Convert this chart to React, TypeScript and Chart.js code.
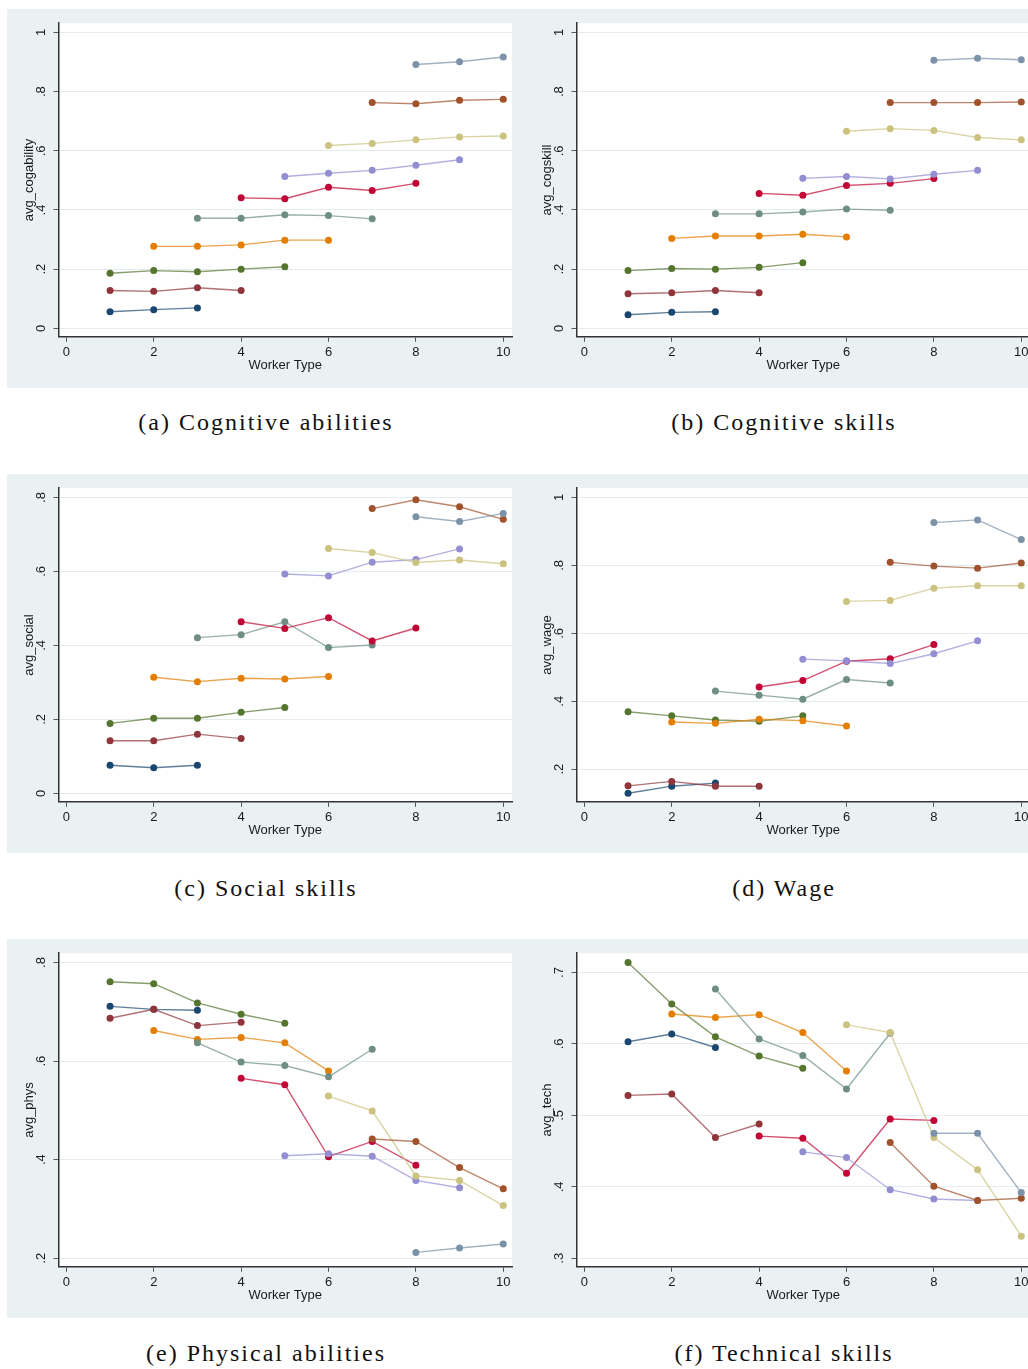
import React, { useEffect, useRef } from 'react';
import { Chart, registerables } from 'chart.js';

Chart.register(...registerables);

// ---------- data ----------
const xTicks = [0, 2, 4, 6, 8, 10];
const xTitle = 'Worker Type';

// first worker type of each of the ten series
const seriesStartX = [1, 1, 1, 2, 3, 4, 5, 6, 7, 8];
const seriesNames = ['Group 1', 'Group 2', 'Group 3', 'Group 4', 'Group 5', 'Group 6', 'Group 7', 'Group 8', 'Group 9', 'Group 10'];
const seriesColors = ['#1a476f', '#90353b', '#55752f', '#e37e00', '#6e8e84', '#c10534', '#938dd2', '#cac27e', '#a0522d', '#7b92a8'];

const cogAbility = [
  [0.056, 0.063, 0.069],
  [0.128, 0.125, 0.137, 0.128],
  [0.186, 0.195, 0.191, 0.2, 0.208],
  [0.277, 0.277, 0.282, 0.298, 0.298],
  [0.372, 0.372, 0.384, 0.381, 0.37],
  [0.441, 0.438, 0.477, 0.466, 0.49],
  [0.513, 0.524, 0.534, 0.551, 0.57],
  [0.618, 0.625, 0.637, 0.647, 0.65],
  [0.763, 0.759, 0.771, 0.774],
  [0.892, 0.901, 0.917],
];

const cogSkill = [
  [0.046, 0.054, 0.056],
  [0.117, 0.12, 0.128, 0.12],
  [0.195, 0.202, 0.2, 0.206, 0.222],
  [0.304, 0.312, 0.312, 0.318, 0.309],
  [0.387, 0.387, 0.393, 0.403, 0.399],
  [0.456, 0.45, 0.483, 0.49, 0.506],
  [0.507, 0.513, 0.505, 0.521, 0.534],
  [0.666, 0.675, 0.669, 0.645, 0.637],
  [0.763, 0.763, 0.763, 0.765],
  [0.906, 0.913, 0.908],
];

const social = [
  [0.076, 0.069, 0.076],
  [0.142, 0.142, 0.16, 0.148],
  [0.189, 0.203, 0.203, 0.219, 0.232],
  [0.314, 0.302, 0.311, 0.309, 0.316],
  [0.421, 0.429, 0.464, 0.394, 0.401],
  [0.464, 0.446, 0.475, 0.412, 0.447],
  [0.593, 0.588, 0.625, 0.632, 0.661],
  [0.662, 0.651, 0.624, 0.631, 0.621],
  [0.77, 0.794, 0.775, 0.741],
  [0.748, 0.735, 0.757],
];

const wage = [
  [0.129, 0.15, 0.159],
  [0.151, 0.164, 0.15, 0.15],
  [0.369, 0.357, 0.345, 0.341, 0.357],
  [0.339, 0.335, 0.347, 0.343, 0.327],
  [0.43, 0.418, 0.406, 0.464, 0.454],
  [0.442, 0.461, 0.518, 0.525, 0.567],
  [0.524, 0.519, 0.511, 0.54, 0.578],
  [0.694, 0.697, 0.733, 0.74, 0.74],
  [0.809, 0.798, 0.792, 0.807],
  [0.926, 0.934, 0.876],
];

const phys = [
  [0.711, 0.705, 0.703],
  [0.687, 0.705, 0.672, 0.679],
  [0.761, 0.757, 0.718, 0.695, 0.677],
  [0.662, 0.644, 0.648, 0.637, 0.58],
  [0.637, 0.598, 0.591, 0.568, 0.624],
  [0.565, 0.552, 0.406, 0.437, 0.389],
  [0.408, 0.412, 0.407, 0.358, 0.343],
  [0.529, 0.499, 0.367, 0.358, 0.307],
  [0.442, 0.437, 0.384, 0.341],
  [0.212, 0.221, 0.229],
];

const tech = [
  [0.603, 0.614, 0.595],
  [0.528, 0.53, 0.469, 0.488],
  [0.714, 0.656, 0.61, 0.583, 0.566],
  [0.642, 0.637, 0.641, 0.616, 0.562],
  [0.677, 0.607, 0.584, 0.537, 0.615],
  [0.471, 0.468, 0.419, 0.495, 0.493],
  [0.449, 0.441, 0.396, 0.383, 0.381],
  [0.627, 0.616, 0.469, 0.424, 0.331],
  [0.462, 0.401, 0.381, 0.384],
  [0.475, 0.475, 0.392],
];

const yTicks0to1 = [0, 0.2, 0.4, 0.6, 0.8, 1];
const yLabels0to1 = ['0', '.2', '.4', '.6', '.8', '1'];
const yTicksSocial = [0, 0.2, 0.4, 0.6, 0.8];
const yLabelsSocial = ['0', '.2', '.4', '.6', '.8'];
const yTicksWage = [0.2, 0.4, 0.6, 0.8, 1];
const yLabelsWage = ['.2', '.4', '.6', '.8', '1'];
const yTicksPhys = [0.2, 0.4, 0.6, 0.8];
const yLabelsPhys = ['.2', '.4', '.6', '.8'];
const yTicksTech = [0.3, 0.4, 0.5, 0.6, 0.7];
const yLabelsTech = ['.3', '.4', '.5', '.6', '.7'];

const panels = [
  { key: 'a', values: cogAbility, yTitle: 'avg_cogability', yTicks: yTicks0to1, yLabels: yLabels0to1, caption: '(a) Cognitive abilities' },
  { key: 'b', values: cogSkill, yTitle: 'avg_cogskill', yTicks: yTicks0to1, yLabels: yLabels0to1, caption: '(b) Cognitive skills' },
  { key: 'c', values: social, yTitle: 'avg_social', yTicks: yTicksSocial, yLabels: yLabelsSocial, caption: '(c) Social skills' },
  { key: 'd', values: wage, yTitle: 'avg_wage', yTicks: yTicksWage, yLabels: yLabelsWage, caption: '(d) Wage' },
  { key: 'e', values: phys, yTitle: 'avg_phys', yTicks: yTicksPhys, yLabels: yLabelsPhys, caption: '(e) Physical abilities' },
  { key: 'f', values: tech, yTitle: 'avg_tech', yTicks: yTicksTech, yLabels: yLabelsTech, caption: '(f) Technical skills' },
];

// ---------- layout / style ----------
const PANEL_W = 518;
const PANEL_H = 379;
const COL_LEFT = [7, 525];
const ROW_TOP = [9, 474, 939];
const CAPTION_CY = [422, 888, 1353];
const BG = '#e9f1f3';
const FONT = "'Liberation Sans', Arial, sans-serif";
const TEXT = '#1a1a1a';

const bgPlugin = {
  id: 'stataBg',
  beforeDraw(chart: any) {
    const { ctx, chartArea, width, height } = chart;
    ctx.save();
    ctx.fillStyle = BG;
    ctx.fillRect(0, 0, width, height);
    ctx.fillStyle = '#ffffff';
    ctx.fillRect(chartArea.left, chartArea.top, chartArea.right - chartArea.left, chartArea.bottom - chartArea.top);
    ctx.restore();
  },
};

function withAlpha(hex: string, a: number) {
  const n = parseInt(hex.slice(1), 16);
  return `rgba(${(n >> 16) & 255},${(n >> 8) & 255},${n & 255},${a})`;
}

function buildConfig(p: any) {
  const all = p.values.flat();
  const lo = Math.min(p.yTicks[0], ...all);
  const hi = Math.max(p.yTicks[p.yTicks.length - 1], ...all);
  const r = hi - lo;
  const yMin = lo - 0.0287 * r;
  const yMax = hi + 0.0314 * r;

  const datasets = p.values.map((vals: number[], s: number) => ({
    label: seriesNames[s],
    data: vals.map((v, i) => ({ x: seriesStartX[s] + i, y: v })),
    borderColor: withAlpha(seriesColors[s], 0.7),
    borderWidth: 1.4,
    pointBackgroundColor: seriesColors[s],
    pointBorderColor: seriesColors[s],
    pointBorderWidth: 0,
    pointRadius: 3.5,
    tension: 0,
    fill: false,
    order: -s,
    clip: false,
  }));

  return {
    type: 'line',
    data: { datasets },
    options: {
      animation: false,
      responsive: false,
      devicePixelRatio: 1,
      events: [],
      layout: { padding: { top: 13.7, right: 13, bottom: 0, left: 0 } },
      plugins: { legend: { display: false }, tooltip: { enabled: false } },
      scales: {
        x: {
          type: 'linear',
          min: -0.18,
          max: 10.2,
          afterBuildTicks: (s: any) => { s.ticks = xTicks.map((v) => ({ value: v })); },
          afterFit: (s: any) => { s.height = 51.2; },
          grid: { display: true, drawOnChartArea: false, drawTicks: true, tickLength: 5, tickColor: '#555555', tickWidth: 1 },
          border: { display: true, color: '#333333', width: 1.5 },
          ticks: { font: { family: FONT, size: 13 }, color: TEXT, padding: 2.4, maxRotation: 0, minRotation: 0, autoSkip: false, callback: (v: any) => String(v) },
          title: { display: true, text: xTitle, font: { family: FONT, size: 13 }, color: TEXT, padding: { top: 0, bottom: 15.2 } },
        },
        y: {
          type: 'linear',
          min: yMin,
          max: yMax,
          afterBuildTicks: (s: any) => { s.ticks = p.yTicks.map((v: number) => ({ value: v })); },
          afterFit: (s: any) => { s.width = 51.5; },
          grid: { display: true, drawOnChartArea: true, drawTicks: true, tickLength: 5, color: '#e3edf0', lineWidth: 1, tickColor: '#555555', tickWidth: 1 },
          border: { display: true, color: '#333333', width: 1.5 },
          ticks: { font: { family: FONT, size: 13 }, color: TEXT, padding: 6.4, minRotation: 90, maxRotation: 90, crossAlign: 'center', autoSkip: false, callback: (_v: any, i: number) => p.yLabels[i] },
          title: { display: true, text: p.yTitle, font: { family: FONT, size: 13 }, color: TEXT, padding: { top: 14.2, bottom: 0 } },
        },
      },
    },
    plugins: [bgPlugin],
  };
}

function ChartPanel({ p, left, top }: { p: any; left: number; top: number }) {
  const ref = useRef<HTMLCanvasElement>(null);
  useEffect(() => {
    const chart = new Chart(ref.current as HTMLCanvasElement, buildConfig(p) as any);
    return () => chart.destroy();
  }, [p]);
  return (
    <canvas
      ref={ref}
      width={PANEL_W}
      height={PANEL_H}
      style={{ position: 'absolute', left, top, width: PANEL_W, height: PANEL_H, display: 'block' }}
    />
  );
}

export default function App() {
  return (
    <div style={{ position: 'absolute', left: 0, top: 0, width: 1028, height: 1369, overflow: 'hidden', background: '#ffffff' }}>
      {panels.map((p, i) => {
        const col = i % 2;
        const row = Math.floor(i / 2);
        const left = COL_LEFT[col];
        const top = ROW_TOP[row];
        return (
          <React.Fragment key={p.key}>
            <ChartPanel p={p} left={left} top={top} />
            <div
              style={{
                position: 'absolute',
                left,
                top: CAPTION_CY[row] - 16,
                width: PANEL_W,
                height: 32,
                lineHeight: '32px',
                textAlign: 'center',
                fontFamily: "'Liberation Serif', 'Times New Roman', serif",
                fontSize: 24,
                letterSpacing: '2px',
                color: '#111111',
                whiteSpace: 'nowrap',
              }}
            >
              {p.caption}
            </div>
          </React.Fragment>
        );
      })}
    </div>
  );
}
